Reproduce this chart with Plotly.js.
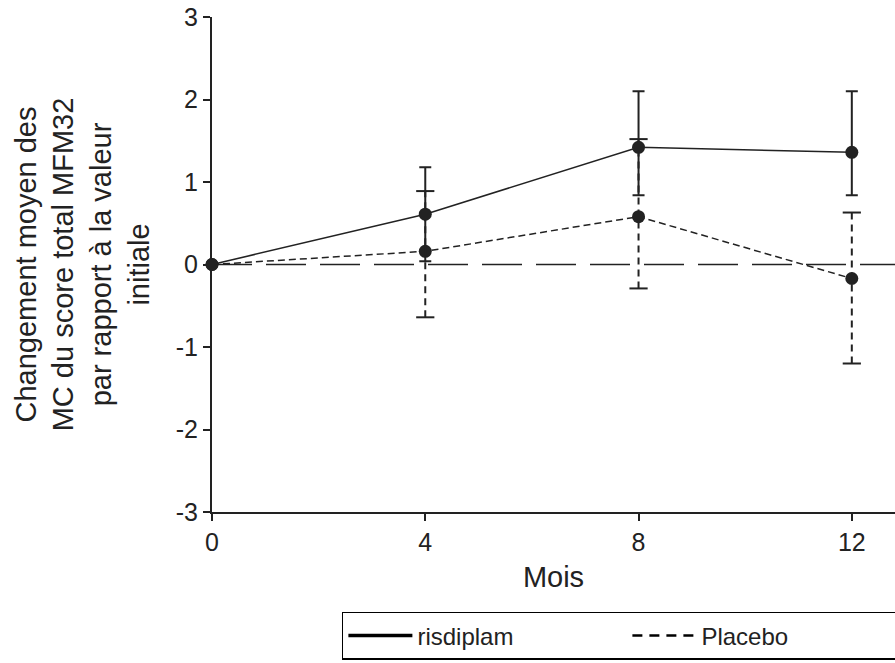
<!DOCTYPE html>
<html>
<head>
<meta charset="utf-8">
<script src="https://cdn.plot.ly/plotly-3.0.1.min.js"></script>
<style>html,body{margin:0;padding:0;background:#fff;}#chart{width:895px;height:663px;}</style>
</head>
<body>
<div id="chart"></div>
<script>
// Data
const months = [0, 4, 8, 12];
const xTickLabels = ['0', '4', '8', '12'];
const yTickVals = [-3, -2, -1, 0, 1, 2, 3];
const yTickLabels = ['-3', '-2', '-1', '0', '1', '2', '3'];
const risdiplam = [0, 0.61, 1.42, 1.36];
const risdiplamPlus = [0, 0.57, 0.68, 0.74];
const risdiplamMinus = [0, 0.57, 0.58, 0.52];
const placebo = [0, 0.16, 0.58, -0.17];
const placeboPlus = [0, 0.73, 0.94, 0.80];
const placeboMinus = [0, 0.80, 0.87, 1.03];
const seriesNames = ['risdiplam', 'Placebo'];

const ink = '#222222';

// Placebo dashed error bars built from data
const pbX = [], pbY = [], capX = [], capY = [];
months.forEach((m, i) => {
  if (placeboPlus[i] === 0 && placeboMinus[i] === 0) return;
  const lo = placebo[i] - placeboMinus[i];
  const hi = placebo[i] + placeboPlus[i];
  pbX.push(m, m, null);
  pbY.push(lo, hi, null);
  capX.push(m, m);
  capY.push(lo, hi);
});

const traces = [
  {
    x: [0, 13], y: [0, 0], mode: 'lines', showlegend: false, hoverinfo: 'skip',
    line: {color: ink, width: 1.6, dash: '40px,14px'}, cliponaxis: false
  },
  {
    x: pbX, y: pbY, mode: 'lines', showlegend: false, hoverinfo: 'skip',
    line: {color: ink, width: 2, dash: '7px,5px'}, cliponaxis: false
  },
  {
    x: capX, y: capY, mode: 'markers', showlegend: false, hoverinfo: 'skip',
    marker: {symbol: 'line-ew', size: 13, line: {color: ink, width: 2}}, cliponaxis: false
  },
  {
    x: months, y: placebo, mode: 'lines+markers', showlegend: false,
    line: {color: ink, width: 1.5, dash: '7px,4px'},
    marker: {color: ink, size: 13}, cliponaxis: false
  },
  {
    x: months, y: risdiplam, mode: 'lines+markers', showlegend: false,
    line: {color: ink, width: 1.5},
    marker: {color: ink, size: 13},
    error_y: {type: 'data', symmetric: false, array: risdiplamPlus, arrayminus: risdiplamMinus,
              color: ink, thickness: 2, width: 6},
    cliponaxis: false
  },
  {
    x: [null], y: [null], mode: 'lines', name: seriesNames[0],
    line: {color: '#000', width: 3.5}
  },
  {
    x: [null], y: [null], mode: 'lines', name: seriesNames[1],
    line: {color: '#000', width: 2.5, dash: '10px,7px'}
  }
];

const layout = {
  width: 895, height: 663,
  margin: {l: 212, r: 0, t: 17, b: 151},
  paper_bgcolor: '#fff', plot_bgcolor: '#fff',
  font: {family: 'Liberation Sans, Arial, sans-serif', size: 25, color: ink},
  showlegend: true,
  legend: {
    orientation: 'h', xref: 'container', yref: 'container',
    x: 0.382, xanchor: 'left', y: 0.077, yanchor: 'top',
    bordercolor: '#000', borderwidth: 1.5, bgcolor: '#fff',
    font: {size: 24, color: ink}, entrywidth: 205, entrywidthmode: 'pixels',
    itemwidth: 64
  },
  xaxis: {
    range: [0, 12.81], tickvals: months, ticktext: xTickLabels,
    showgrid: false, zeroline: false, showline: true, linecolor: ink, linewidth: 2,
    ticks: 'outside', ticklen: 7, tickwidth: 2, tickcolor: ink,
    tickfont: {size: 25}, fixedrange: true,
    title: {text: 'Mois', font: {size: 29}, standoff: 12}
  },
  yaxis: {
    range: [-3, 3], tickvals: yTickVals, ticktext: yTickLabels,
    showgrid: false, zeroline: false, showline: true, linecolor: ink, linewidth: 2,
    ticks: 'outside', ticklen: 7, tickwidth: 2, tickcolor: ink,
    tickfont: {size: 25}, fixedrange: true,
    title: {text: 'Changement moyen des<br>MC du score total MFM32<br>par rapport à la valeur<br>initiale',
            font: {size: 29}, standoff: 18}
  }
};

Plotly.newPlot('chart', traces, layout, {staticPlot: true, displayModeBar: false});
</script>
</body>
</html>
